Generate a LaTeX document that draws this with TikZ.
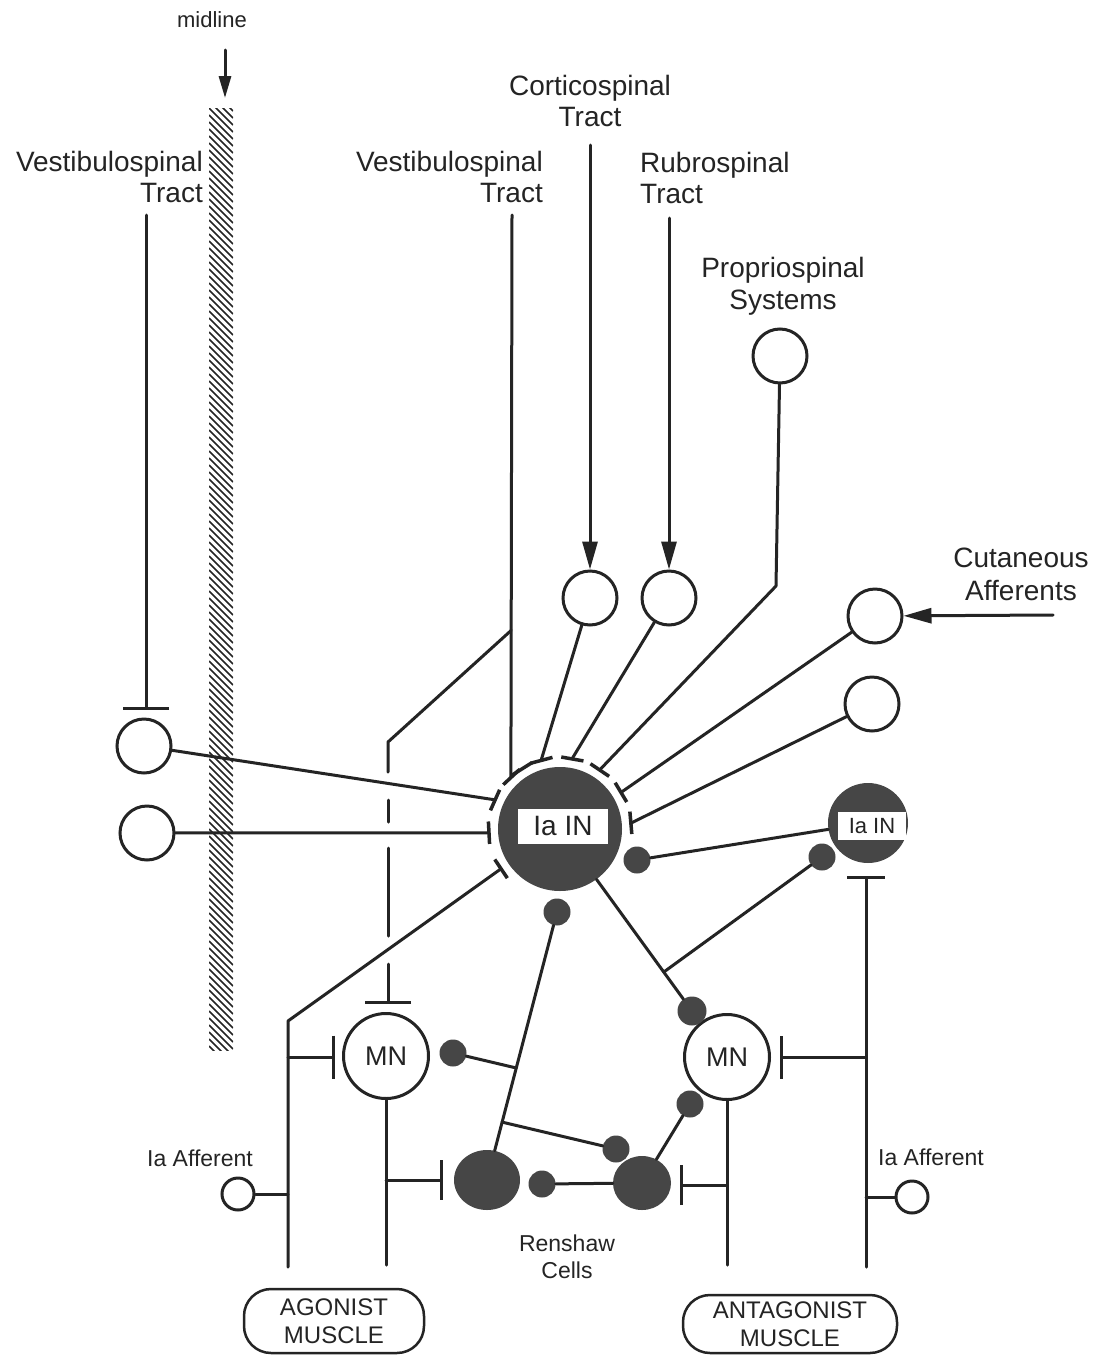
\documentclass[tikz,border=0pt]{standalone}
\usepackage{fontspec}
\setmainfont{Liberation Sans}
\usetikzlibrary{arrows.meta,calc,shapes.geometric}
\definecolor{ink}{HTML}{242424}
\definecolor{cellfill}{HTML}{464646}
\newcommand{\myfs}[2]{\fontsize{#1pt}{#2pt}\selectfont}
\begin{document}
\begin{tikzpicture}[x=1pt,y=-1pt,
  ln/.style={line width=3pt, draw=ink, line cap=round, line join=round},
  opencell/.style={circle, draw=ink, line width=3pt, inner sep=0pt, minimum size=54pt, fill=white},
  syn/.style={circle, fill=cellfill, inner sep=0pt, minimum size=27pt},
  big/.style={circle, fill=cellfill, inner sep=0pt},
  lab/.style={text=ink, inner sep=0pt},
  arr/.style={ln, -{Triangle[length=28pt,width=15pt]}},
  ringbar/.style={line width=3.5pt, draw=ink},
  muscle/.style={draw=ink, line width=2.5pt, rounded corners=27pt, align=center, text=ink, inner sep=0pt, font={\myfs{24}{28}}},
  boxlab/.style={fill=white, inner sep=0pt, text=ink}
]
\fill[white] (0,0) rectangle (1103,1357);
\useasboundingbox (0,0) rectangle (1103,1357);

% midline band
\begin{scope}
\clip (209,108) rectangle (233,1050);
\foreach \y in {80,87,...,1050} \draw[ink, line width=1.6pt] (209,\y) -- (233,\y+24);
\end{scope}
\node[lab, font={\myfs{22}{22}}] (midl) at (212,20) {midline};
\coordinate (ma0) at (225,50); \coordinate (ma1) at (225,98);
\draw[ln, -{Triangle[length=22pt,width=12pt]}] (ma0) -- (ma1);

% labels
\node[lab, font={\myfs{28}{31}}, align=right, anchor=north east] (tvsl) at (203,151) {Vestibulospinal\\Tract};
\node[lab, font={\myfs{28}{31}}, align=right, anchor=north east] (tvsm) at (543,151) {Vestibulospinal\\Tract};
\node[lab, font={\myfs{28}{31}}, align=center, anchor=north] (tcort) at (590,75) {Corticospinal\\Tract};
\node[lab, font={\myfs{28}{31}}, align=left, anchor=north west] (trub) at (640,152) {Rubrospinal\\Tract};
\node[lab, font={\myfs{28}{32}}, align=center, anchor=north] (tprop) at (783,257) {Propriospinal\\Systems};
\node[lab, font={\myfs{28}{33}}, align=center, anchor=north] (tcut) at (1021,548) {Cutaneous\\Afferents};
\node[lab, font={\myfs{23}{23}}] (affAl) at (200,1158) {Ia Afferent};
\node[lab, font={\myfs{23}{23}}] (affBl) at (931,1157) {Ia Afferent};
\node[lab, font={\myfs{23}{27}}, align=center, anchor=north] (rens) at (567,1235) {Renshaw\\Cells};

% cells
\node[opencell] (L1) at (144,746) {};
\node[opencell] (L2) at (147,833) {};
\node[opencell] (cort) at (590,598) {};
\node[opencell] (rub) at (669,598) {};
\node[opencell] (prop) at (780,356) {};
\node[opencell] (cut) at (875,616) {};
\node[opencell] (lr) at (872,704) {};
\node[big, minimum size=124pt] (iaL) at (560,829) {};
\node[boxlab, minimum width=90pt, minimum height=35pt, font={\myfs{28}{28}}] (iaLt) at (563,826) {Ia IN};
\node[big, minimum size=80pt] (iaR) at (868,823) {};
\node[boxlab, minimum width=68pt, minimum height=28pt, font={\myfs{22}{22}}] (iaRt) at (872,826) {Ia IN};
\node[opencell, minimum size=85pt, font={\myfs{27}{27}}, text=ink] (mnA) at (386,1056) {MN};
\node[opencell, minimum size=85pt, font={\myfs{27}{27}}, text=ink] (mnB) at (727,1057) {MN};
\node[big, ellipse, minimum width=66pt, minimum height=60pt] (rsA) at (487,1180) {};
\node[big, ellipse, minimum width=58pt, minimum height=54pt] (rsB) at (642,1183) {};
\node[syn] (dIa1) at (637,860) {};
\node[syn] (dIa2) at (557,912) {};
\node[syn] (dR1) at (822,857) {};
\node[syn, minimum size=29pt] (dMB1) at (692,1011) {};
\node[syn] (dMB2) at (690,1104) {};
\node[syn] (dMA) at (453,1053) {};
\node[syn] (dRB) at (616,1149) {};
\node[syn] (dRA) at (542,1184) {};
\node[opencell, minimum size=32pt] (affA) at (238,1194) {};
\node[opencell, minimum size=32pt] (affB) at (912,1197) {};
\node[muscle, minimum width=180pt, minimum height=64pt] (musA) at (334,1321) {AGONIST\\MUSCLE};
\node[muscle, minimum width=214pt, minimum height=58pt] (musB) at (790,1324) {ANTAGONIST\\MUSCLE};

% ring of terminals around the big Ia IN
\foreach \a in {146,177,204,227,238,255,280,304,329,355} {
  \coordinate (r\a) at ($(iaL.center)+(\a:72)$);
}
\foreach \a [evaluate=\a as \lo using \a-9, evaluate=\a as \hi using \a+9] in {146,177,204,227,238,255,280,304,329,355} {
  \draw[ringbar] ($(iaL.center)+(\lo:72)$) -- ($(iaL.center)+(\hi:72)$);
}

% left vestibulospinal
\coordinate (vsLtop) at (146,215); \coordinate (vsLbar) at (146,710);
\draw[ln, -{Bar[width=46pt]}] (vsLtop) -- (vsLbar);
\draw[ln] (L1) -- (r204);
\draw[ln] (L2) -- (r177);

% middle vestibulospinal
\coordinate (vsMtop) at (512,215);
\draw[ln] (vsMtop) -- (r227);
\coordinate (brV) at ($(vsMtop)!0.74!(r227)$);
\coordinate (k1) at (388,742); \coordinate (k2) at (388,772);
\draw[ln] (brV) -- (k1) -- (k2);
\coordinate (k3) at (388,800); \coordinate (k4) at (388,822);
\draw[ln] (k3) -- (k4);
\coordinate (k5) at (388,848); \coordinate (k6) at (388,936);
\draw[ln] (k5) -- (k6);
\coordinate (k7) at (388,964); \coordinate (k8) at (388,1004);
\draw[ln, -{Bar[width=46pt]}] (k7) -- (k8);

% descending inputs
\coordinate (ct) at (590,145); \draw[arr] (ct) -- (cort);
\coordinate (rt) at (669,218); \draw[arr] (rt) -- (rub);
\coordinate (cutt) at (1053,615); \draw[arr] (cutt) -- (cut);
\draw[ln] (cort) -- (r255);
\draw[ln] (rub) -- (r280);
\coordinate (pb) at (776,586);
\draw[ln] (prop) -- (pb) -- (r304);
\draw[ln] (cut) -- (r329);
\draw[ln] (lr) -- (r355);

% agonist Ia afferent
\coordinate (jA) at (288,1021); \coordinate (aBot) at (288,1267);
\draw[ln] (r146) -- (jA) -- (aBot);
\coordinate (jA1) at (288,1057); \coordinate (tA1) at (335,1057);
\draw[ln, -{Bar[width=43pt]}] (jA1) -- (tA1);
\coordinate (jA2) at (288,1194);
\draw[ln] (jA2) -- (affA);

% Ia IN outputs
\draw[ln] (dIa1) -- (iaR);
\draw[ln] (iaL) -- (dMB1);
\coordinate (brB) at ($(iaL.center)!0.786!(dMB1.center)$);
\draw[ln] (brB) -- (dR1);

% antagonist Ia afferent
\coordinate (bBot) at (866,1267); \coordinate (bTop) at (866,876);
\draw[ln, -{Bar[width=38pt]}] (bBot) -- (bTop);
\coordinate (jB1) at (866,1057); \coordinate (tB1) at (780,1057);
\draw[ln, -{Bar[width=43pt]}] (jB1) -- (tB1);
\coordinate (jB2) at (866,1197);
\draw[ln] (jB2) -- (affB);

% motoneuron axons
\coordinate (mAbot) at (386,1265);
\draw[ln] (mnA) -- (mAbot);
\coordinate (jM1) at (386,1180); \coordinate (tM1) at (443,1180);
\draw[ln, -{Bar[width=40pt]}] (jM1) -- (tM1);
\coordinate (mBbot) at (727,1265);
\draw[ln] (mnB) -- (mBbot);
\coordinate (jM2) at (727,1185); \coordinate (tM2) at (680,1185);
\draw[ln, -{Bar[width=40pt]}] (jM2) -- (tM2);

% Renshaw cells
\draw[ln] (rsA) -- (dIa2);
\coordinate (brA1) at ($(rsA.center)!0.418!(dIa2.center)$);
\coordinate (brA2) at ($(rsA.center)!0.216!(dIa2.center)$);
\draw[ln] (brA1) -- (dMA);
\draw[ln] (brA2) -- (dRB);
\draw[ln] (dRA) -- (rsB);
\draw[ln] (rsB) -- (dMB2);
\end{tikzpicture}
\end{document}
